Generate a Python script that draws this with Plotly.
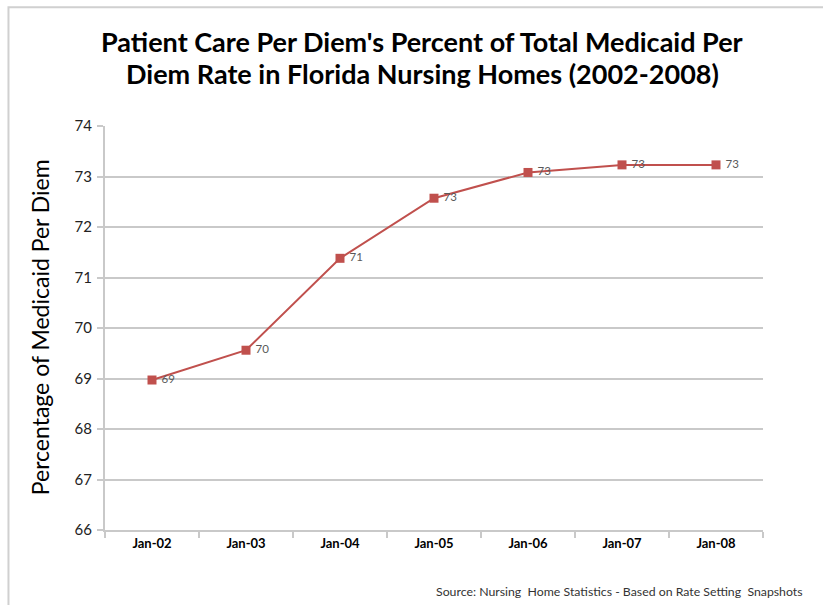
import plotly.graph_objects as go

categories = ["Jan-02", "Jan-03", "Jan-04", "Jan-05", "Jan-06", "Jan-07", "Jan-08"]
values = [68.97, 69.56, 71.38, 72.57, 73.08, 73.23, 73.23]
labels = ["69", "70", "71", "73", "73", "73", "73"]
y_ticks = [66, 67, 68, 69, 70, 71, 72, 73, 74]

title_line1 = "Patient Care Per Diem's Percent of Total Medicaid Per"
title_line2 = "Diem Rate in Florida Nursing Homes (2002-2008)"
y_title = "Percentage of Medicaid Per Diem"
source_text = "Source: Nursing  Home Statistics - Based on Rate Setting  Snapshots"

RED = "#C0504D"
GRID = "#C9C9C9"

fig = go.Figure()
fig.add_trace(go.Scatter(
    x=categories, y=values, mode="lines+markers+text",
    text=[" " + t for t in labels], textposition="middle right",
    textfont=dict(family="Lato", size=11.5, color="#595959"),
    line=dict(color=RED, width=2),
    marker=dict(symbol="square", size=9, color=RED),
    cliponaxis=False, showlegend=False,
))

title_font = dict(family="Lato", size=27, color="black", weight="bold")

fig.update_layout(
    width=823, height=605,
    margin=dict(l=105, r=60, t=126, b=75),
    paper_bgcolor="white", plot_bgcolor="white",
    xaxis=dict(type="category", range=[-0.5, 6.5], tickson="boundaries",
               ticks="outside", ticklen=6, tickcolor=GRID, tickwidth=1.5,
               showline=True, linecolor=GRID, linewidth=2, showgrid=False,
               tickfont=dict(family="Lato", size=13, color="black", weight="bold"),
               fixedrange=True),
    yaxis=dict(range=[66, 74], tickvals=y_ticks, showgrid=True, gridcolor=GRID, gridwidth=2,
               ticks="outside", ticklen=6, tickcolor=GRID, tickwidth=1.5,
               showline=True, linecolor=GRID, linewidth=2, zeroline=False,
               tickfont=dict(family="Lato", size=15, color="#222222"), ticklabelstandoff=2),
    annotations=[
        dict(text=title_line1, xref="paper", yref="paper", x=0.4818, y=1.208,
             xanchor="center", yanchor="middle", showarrow=False, font=title_font),
        dict(text=title_line2, xref="paper", yref="paper", x=0.4818, y=1.131,
             xanchor="center", yanchor="middle", showarrow=False, font=title_font),
        dict(text=y_title, xref="paper", yref="paper", x=-0.0988, y=0.502,
             xanchor="center", yanchor="middle", textangle=-90, showarrow=False,
             font=dict(family="Lato", size=23, color="black")),
        dict(text=source_text, xref="paper", yref="paper", x=1.064, y=-0.153,
             xanchor="right", yanchor="middle", showarrow=False,
             font=dict(family="Lato", size=12.3, color="#333333")),
    ],
    shapes=[dict(type="rect", xref="paper", yref="paper",
                 x0=-0.1467, x1=1.102, y0=-0.21, y1=1.294,
                 line=dict(color="#D0D0D0", width=2))],
)

fig.write_html("out.html", config={"displayModeBar": False},
               post_script="document.body.style.margin='0';")
